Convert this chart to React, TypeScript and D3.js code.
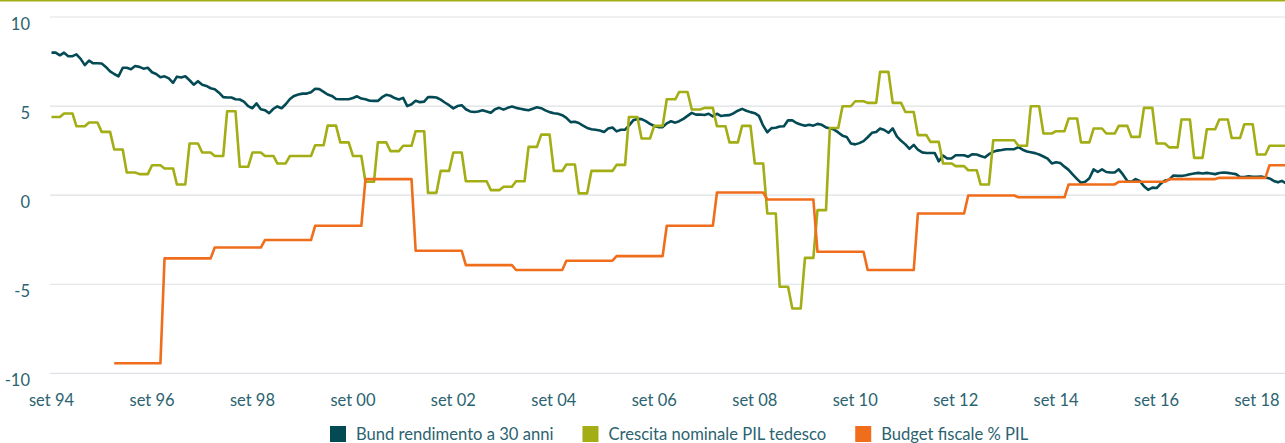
import React, { useEffect, useRef } from 'react';
import * as d3 from 'd3';

const WIDTH = 1285;
const HEIGHT = 443;

// Monthly 30y Bund yield, starting Sep 1994
const bundYield30y = [
  8.0, 8.0, 7.85, 8.0, 7.8, 7.8, 7.9, 7.65, 7.3, 7.55,
  7.4, 7.4, 7.39, 7.2, 6.95, 6.8, 6.67, 7.15, 7.15, 7.07,
  7.25, 7.2, 7.1, 7.15, 6.9, 6.8, 6.62, 6.67, 6.55, 6.3,
  6.65, 6.6, 6.67, 6.45, 6.2, 6.4, 6.2, 6.13, 6.0, 5.95,
  5.75, 5.5, 5.48, 5.48, 5.38, 5.37, 5.25, 5.0, 4.88, 5.15,
  4.82, 4.77, 4.6, 4.85, 4.98, 4.88, 5.1, 5.4, 5.57, 5.65,
  5.7, 5.7, 5.78, 5.97, 5.95, 5.8, 5.65, 5.57, 5.4, 5.38,
  5.38, 5.38, 5.45, 5.55, 5.42, 5.38, 5.3, 5.29, 5.29, 5.5,
  5.63, 5.58, 5.45, 5.37, 5.46, 5.0, 5.1, 5.3, 5.22, 5.25,
  5.5, 5.5, 5.48, 5.36, 5.2, 5.05, 4.87, 5.0, 5.05, 4.82,
  4.7, 4.67, 4.7, 4.76, 4.7, 4.62, 4.82, 4.9, 4.8, 4.9,
  4.97, 4.9, 4.85, 4.8, 4.77, 4.85, 4.93, 4.88, 4.76, 4.66,
  4.6, 4.57, 4.49, 4.34, 4.1, 4.12, 4.05, 3.9, 3.77, 3.7,
  3.67, 3.63, 3.55, 3.74, 3.8, 3.58, 3.67, 3.68, 3.9, 4.2,
  4.28, 4.27, 4.15, 4.0, 3.88, 3.82, 3.82, 4.03, 4.15, 4.07,
  4.15, 4.28, 4.45, 4.62, 4.52, 4.53, 4.5, 4.57, 4.42, 4.57,
  4.44, 4.48, 4.49, 4.6, 4.74, 4.84, 4.74, 4.66, 4.6, 4.45,
  3.9, 3.53, 3.76, 3.78, 3.85, 3.87, 4.2, 4.2, 4.05, 3.97,
  3.9, 3.95, 3.9, 4.0, 3.95, 3.8, 3.76, 3.68, 3.52, 3.34,
  3.27, 2.9, 2.85, 2.92, 3.03, 3.25, 3.5, 3.55, 3.74, 3.66,
  3.5, 3.75, 3.3, 3.05, 2.85, 2.6, 2.82, 2.55, 2.4, 2.37,
  2.37, 2.37, 1.9, 2.22, 2.06, 2.06, 2.24, 2.24, 2.24, 2.16,
  2.3, 2.28, 2.2, 2.12, 2.3, 2.43, 2.5, 2.53, 2.58, 2.58,
  2.58, 2.7, 2.55, 2.45, 2.41, 2.36, 2.28, 2.17, 2.05, 1.78,
  1.85, 1.8, 1.6, 1.42, 1.15, 0.9, 0.7, 0.75, 0.95, 1.45,
  1.3, 1.45, 1.3, 1.27, 1.27, 1.45, 1.15, 0.8, 0.75, 0.9,
  0.8, 0.5, 0.3, 0.42, 0.4, 0.65, 0.82, 0.87, 1.1, 1.08,
  1.08, 1.12, 1.17, 1.22, 1.25, 1.22, 1.25, 1.22, 1.18, 1.24,
  1.27, 1.25, 1.22, 1.18, 1.02, 1.02, 1.06, 1.03, 1.03, 1.05,
  0.99, 0.94, 0.8, 0.72, 0.8, 0.66,
];

// Quarterly nominal GDP growth, first quarter starting Sep 1994 (each held 3 months)
const gdpNominalGrowth = [
  4.39, 4.58, 3.87, 4.08, 3.55, 2.56, 1.27, 1.18, 1.68, 1.5,
  0.6, 2.9, 2.39, 2.2, 4.71, 1.59, 2.39, 2.2, 1.78, 2.2,
  2.2, 2.8, 3.9, 2.96, 2.2, 0.75, 2.96, 2.47, 2.77, 3.59,
  0.13, 1.36, 2.39, 0.78, 0.78, 0.28, 0.47, 0.78, 2.71, 3.4,
  1.36, 1.72, 0.1, 1.36, 1.36, 1.7, 4.39, 3.18, 3.89, 5.38,
  5.79, 4.81, 4.9, 3.87, 2.96, 3.89, 1.78, -1.03, -5.14, -6.36,
  -3.52, -0.84, 3.77, 4.99, 5.27, 5.18, 6.92, 5.18, 4.67, 3.37,
  2.99, 1.78, 1.63, 1.4, 0.6, 3.08, 3.08, 2.77, 4.99, 3.46,
  3.59, 4.3, 2.96, 3.74, 3.46, 3.89, 3.27, 4.9, 2.9, 2.68,
  4.25, 2.09, 3.7, 4.25, 3.21, 3.98, 2.28, 2.77, 2.77,
];

// Annual fiscal balance % GDP (shown from December of each year)
const budgetYears = [
  1995, 1996, 1997, 1998, 1999, 2000, 2001, 2002, 2003, 2004, 2005, 2006,
  2007, 2008, 2009, 2010, 2011, 2012, 2013, 2014, 2015, 2016, 2017, 2018,
];
const budgetBalance = [
  -9.44, -3.55, -2.94, -2.52, -1.72, 0.9, -3.12, -3.93, -4.2, -3.68, -3.42, -1.72,
  0.15, -0.24, -3.18, -4.2, -1.03, -0.02, -0.12, 0.6, 0.75, 0.9, 0.97, 1.68,
];

const yTicks = [10, 5, 0, -5, -10];
const xTickYears = [1994, 1996, 1998, 2000, 2002, 2004, 2006, 2008, 2010, 2012, 2014, 2016, 2018];
const xTickLabels = ['set 94', 'set 96', 'set 98', 'set 00', 'set 02', 'set 04', 'set 06', 'set 08', 'set 10', 'set 12', 'set 14', 'set 16', 'set 18'];

const seriesNames = ['Bund rendimento a 30 anni', 'Crescita nominale PIL tedesco', 'Budget fiscale % PIL'];
const seriesColors = ['#034a55', '#a3ad14', '#f06d1c'];

const TEXT_COLOR = '#2b6370';
const GRID_COLOR = '#dde1e5';
const FONT = 'Lato, "Open Sans", sans-serif';

type Pt = { date: Date; value: number };
const monthDate = (i: number) => new Date(1994, 8 + i, 1);

export default function App() {
  const ref = useRef<SVGSVGElement | null>(null);

  useEffect(() => {
    const svg = d3.select(ref.current);
    svg.selectAll('*').remove();

    const x = d3.scaleTime()
      .domain([new Date(1994, 8, 1), new Date(2018, 8, 1)])
      .range([51.5, 1257]);
    const y = d3.scaleLinear().domain([-10, 10]).range([373.3, 17]);

    // top border
    svg.append('line')
      .attr('x1', 0).attr('x2', WIDTH).attr('y1', 0.75).attr('y2', 0.75)
      .attr('stroke', '#a3ad14').attr('stroke-width', 1.5);

    // gridlines
    svg.append('g').selectAll('line').data(yTicks).join('line')
      .attr('x1', 50).attr('x2', WIDTH)
      .attr('y1', d => y(d)).attr('y2', d => y(d))
      .attr('stroke', GRID_COLOR).attr('stroke-width', 1.2);

    // y labels
    svg.append('g').selectAll('text').data(yTicks).join('text')
      .attr('x', 30).attr('y', d => y(d) + 13)
      .attr('text-anchor', 'end')
      .attr('font-family', FONT).attr('font-size', 16.5)
      .attr('fill', TEXT_COLOR)
      .text(d => String(d));

    // x labels
    svg.append('g').selectAll('text').data(xTickYears).join('text')
      .attr('x', d => x(new Date(d, 8, 1)))
      .attr('y', 406)
      .attr('text-anchor', 'middle')
      .attr('font-family', FONT).attr('font-size', 16.5)
      .attr('fill', TEXT_COLOR)
      .text((d, i) => xTickLabels[i]);

    svg.append('defs').append('clipPath').attr('id', 'plotclip')
      .append('rect').attr('x', 50).attr('y', 0).attr('width', WIDTH - 50).attr('height', HEIGHT);

    const line = d3.line<Pt>().x(d => x(d.date)).y(d => y(d.value));

    const bundPts: Pt[] = bundYield30y.map((v, i) => ({ date: monthDate(i), value: v }));
    const gdpPts: Pt[] = gdpNominalGrowth.flatMap((v, q) => [
      { date: monthDate(3 * q), value: v },
      { date: monthDate(3 * q + 2), value: v },
    ]);
    const budgetPts: Pt[] = budgetBalance.flatMap((v, k) => {
      const start = (budgetYears[k] - 1994) * 12 + 3;
      return [
        { date: monthDate(start), value: v },
        { date: monthDate(start + 11), value: v },
      ];
    });

    const g = svg.append('g').attr('clip-path', 'url(#plotclip)');
    [bundPts, gdpPts, budgetPts].forEach((pts, i) => {
      g.append('path').datum(pts)
        .attr('d', line)
        .attr('fill', 'none')
        .attr('stroke', seriesColors[i])
        .attr('stroke-width', 2.6)
        .attr('stroke-linejoin', 'round');
    });

    // legend
    const lg = svg.append('g');
    let cx = 330;
    seriesNames.forEach((name, i) => {
      lg.append('rect').attr('x', cx).attr('y', 426).attr('width', 16).attr('height', 16)
        .attr('fill', seriesColors[i]);
      const t = lg.append('text').attr('x', cx + 26).attr('y', 440)
        .attr('font-family', FONT).attr('font-size', 16.6)
        .attr('fill', TEXT_COLOR).text(name);
      const w = (t.node() as SVGTextElement).getComputedTextLength();
      cx = cx + 26 + w + 29;
    });
  }, []);

  return (
    <svg
      ref={ref}
      width={WIDTH}
      height={HEIGHT}
      style={{ position: 'absolute', left: 0, top: 0, background: '#ffffff' }}
    />
  );
}
